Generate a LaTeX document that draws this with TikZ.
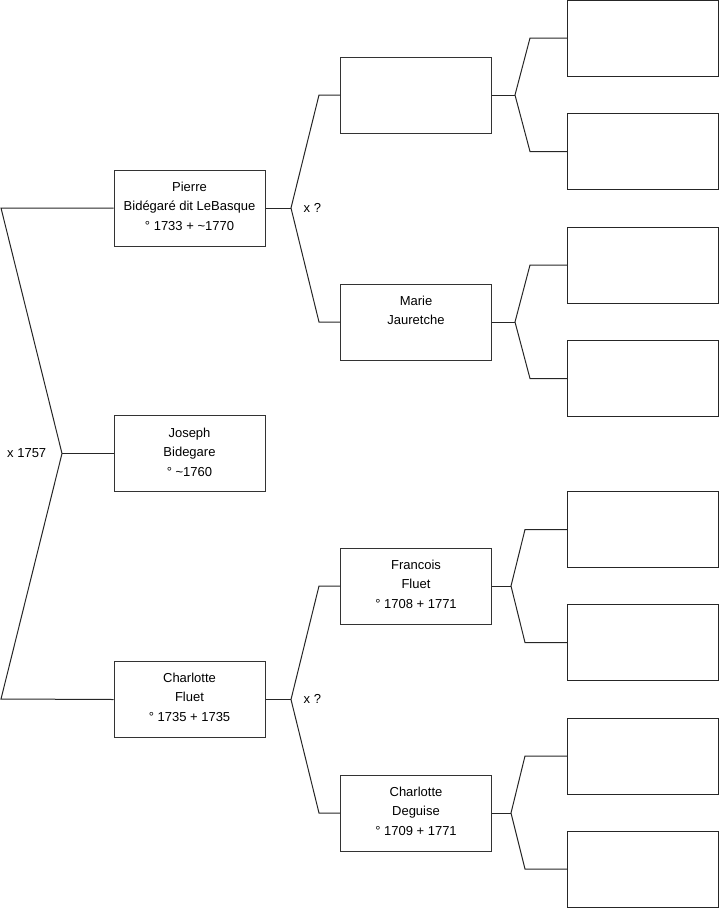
\documentclass[tikz,border=0pt]{standalone}
\usepackage{fontspec}
\setmainfont{Liberation Sans}
\begin{document}
\begin{tikzpicture}[x=1pt,y=-1pt,
  pbox/.style={draw=black!80,line width=1pt,minimum width=151pt,minimum height=76pt,inner sep=0pt},
  rbox/.style={draw=black!85,line width=1pt,minimum width=151pt,minimum height=76pt,inner sep=0pt},
  ptext/.style={anchor=north,inner sep=0pt,align=center,font=\fontsize{13}{19.5}\selectfont},
  mtext/.style={anchor=base west,inner sep=0pt,font=\fontsize{13}{15}\selectfont},
  conn/.style={draw=black!85,line width=1pt}]
\useasboundingbox (0,0) rectangle (719,908);
% generation boxes
\node[pbox] (P) at (189.5,208) {};
\node[pbox] (J) at (189.5,453.5) {};
\node[pbox] (C) at (189.5,699.5) {};
\node[pbox] (M1) at (416,95) {};
\node[pbox] (M2) at (416,322) {};
\node[pbox] (M3) at (416,586) {};
\node[pbox] (M4) at (416,813) {};
\node[rbox] (R1) at (643,38) {};
\node[rbox] (R2) at (643,151.5) {};
\node[rbox] (R3) at (643,265) {};
\node[rbox] (R4) at (643,378.5) {};
\node[rbox] (R5) at (643,529.5) {};
\node[rbox] (R6) at (643,642.5) {};
\node[rbox] (R7) at (643,756) {};
\node[rbox] (R8) at (643,869) {};
% texts
\node[ptext] (tP) at (189.5,181.5) {Pierre\\Bidégaré dit LeBasque\\° 1733 + \char`~1770};
\node[ptext] (tJ) at (189.5,427.5) {Joseph\\Bidegare\\° \char`~1760};
\node[ptext] (tC) at (189.5,672.5) {Charlotte\\Fluet\\° 1735 + 1735};
\node[ptext] (tM2) at (416,295.5) {Marie\\Jauretche};
\node[ptext] (tM3) at (416,559.5) {Francois\\Fluet\\° 1708 + 1771};
\node[ptext] (tM4) at (416,786.5) {Charlotte\\Deguise\\° 1709 + 1771};
% connector points
\coordinate (rt) at (1,208);
\coordinate (ra) at (62,453.5);
\coordinate (rb) at (1,699);
\coordinate (pa) at (291,208);
\coordinate (pt) at (319,95);
\coordinate (pb) at (319,322);
\coordinate (ca) at (291,699.5);
\coordinate (ct) at (319,586);
\coordinate (cb) at (319,813);
\coordinate (m1a) at (515,95);
\coordinate (m1t) at (530,38);
\coordinate (m1b) at (530,151.5);
\coordinate (m2a) at (515,322);
\coordinate (m2t) at (530,265);
\coordinate (m2b) at (530,378.5);
\coordinate (m3a) at (511,586);
\coordinate (m3t) at (525,529.5);
\coordinate (m3b) at (525,642.5);
\coordinate (m4a) at (511,813);
\coordinate (m4t) at (525,756);
\coordinate (m4b) at (525,869);
% connectors
\draw[conn] (P.west) -- (rt) -- (ra) -- (rb) -- (C.west);
\draw[conn] (ra) -- (J.west);
\draw[conn] (M1.west) -- (pt) -- (pa) -- (pb) -- (M2.west);
\draw[conn] (P.east) -- (pa);
\draw[conn] (M3.west) -- (ct) -- (ca) -- (cb) -- (M4.west);
\draw[conn] (C.east) -- (ca);
\draw[conn] (R1.west) -- (m1t) -- (m1a) -- (m1b) -- (R2.west);
\draw[conn] (M1.east) -- (m1a);
\draw[conn] (R3.west) -- (m2t) -- (m2a) -- (m2b) -- (R4.west);
\draw[conn] (M2.east) -- (m2a);
\draw[conn] (R5.west) -- (m3t) -- (m3a) -- (m3b) -- (R6.west);
\draw[conn] (M3.east) -- (m3a);
\draw[conn] (R7.west) -- (m4t) -- (m4a) -- (m4b) -- (R8.west);
\draw[conn] (M4.east) -- (m4a);
% marriage labels
\node[mtext] (x1) at (7,457.5) {x 1757};
\node[mtext] (x2) at (303.5,212.5) {x ?};
\node[mtext] (x3) at (303.5,703.5) {x ?};
\end{tikzpicture}
\end{document}
